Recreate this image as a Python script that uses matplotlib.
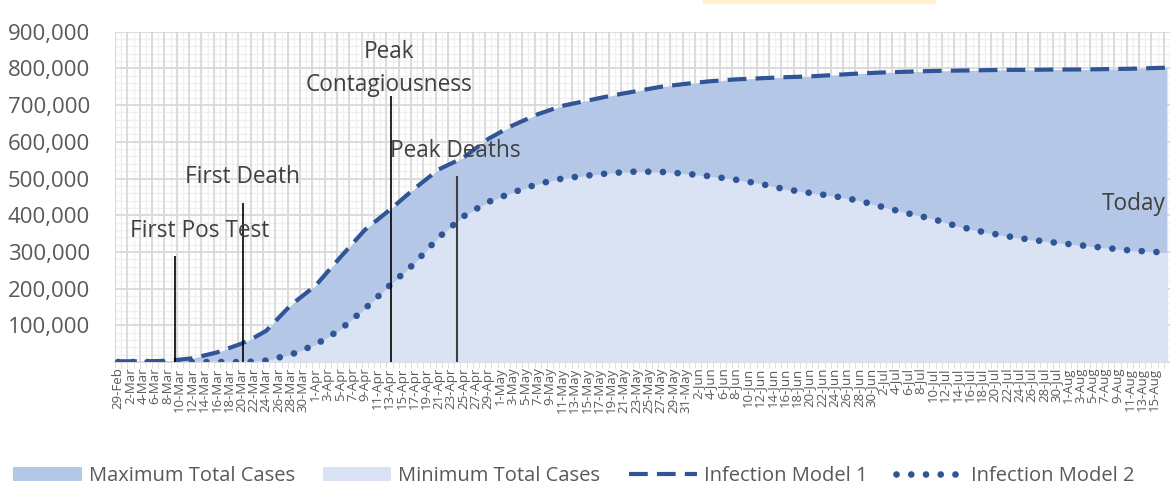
import matplotlib.pyplot as plt
import numpy as np
import pandas as pd
from matplotlib.ticker import MultipleLocator

plt.rcParams['font.family'] = ['Open Sans', 'DejaVu Sans']

# category axis: one entry per day
days = pd.date_range('2020-02-29', '2020-08-17')
day_labels = [f"{d.day}-{d.strftime('%b')}" for d in days]

# values at sample dates
pt_dates = ['29-Feb', '4-Mar', '8-Mar', '12-Mar', '16-Mar', '20-Mar', '22-Mar', '24-Mar',
            '28-Mar', '1-Apr', '5-Apr', '9-Apr', '13-Apr', '17-Apr', '21-Apr', '25-Apr',
            '29-Apr', '3-May', '7-May', '11-May', '15-May', '19-May', '23-May', '27-May',
            '31-May', '4-Jun', '8-Jun', '12-Jun', '16-Jun', '20-Jun', '24-Jun', '28-Jun',
            '2-Jul', '6-Jul', '10-Jul', '14-Jul', '18-Jul', '22-Jul', '26-Jul', '30-Jul',
            '3-Aug', '7-Aug', '11-Aug', '15-Aug', '17-Aug']
model1 = [2000, 2000, 3000, 10000, 26000, 50000, 66000, 85000,
          155000, 208000, 285000, 360000, 414000, 472000, 525000, 557000,
          608000, 645000, 675000, 698000, 712000, 726000, 738000, 750000,
          758000, 765000, 770000, 773000, 776000, 778000, 782000, 786000,
          789000, 791000, 793000, 794000, 795000, 796000, 796000, 797000,
          797000, 798000, 799000, 801000, 802000]
model2 = [0, 0, 0, 0, 0, 0, 1000, 4000,
          20000, 47000, 88000, 145000, 208000, 268000, 340000, 397000,
          436000, 462000, 485000, 500000, 508000, 515000, 519000, 518000,
          513000, 506000, 497000, 486000, 471000, 461000, 452000, 440000,
          422000, 405000, 390000, 370000, 355000, 343000, 333000, 325000,
          318000, 311000, 304000, 300000, 298000]

event_dates = ['9-Mar', '20-Mar', '13-Apr', '24-Apr']
event_tops = [290000, 433000, 726000, 508000]
event_names = ['First Pos Test', 'First Death', 'Peak\nContagiousness', 'Peak Deaths']

pos = {lab: i for i, lab in enumerate(day_labels)}
x = np.array([pos[d] for d in pt_dates])
ev_x = np.array([pos[d] for d in event_dates])

fig = plt.figure(figsize=(11.7, 4.87), dpi=100)
ax = fig.add_axes([115/1170, 1-362/487, 1-115/1170, (362-31.7)/487])

ax.fill_between(x, model1, color='#b4c7e7', lw=0, label='Maximum Total Cases', zorder=2)
ax.fill_between(x, model2, color='#dae3f3', lw=0, label='Minimum Total Cases', zorder=3)
ax.plot(x, model1, color='#2f5597', lw=3, dashes=(4.5, 2.2), label='Infection Model 1', zorder=5)
ax.plot(x, model2, color='#2f5597', lw=4.8, dashes=(0.01, 2.2), dash_capstyle='round',
        label='Infection Model 2', zorder=5)

# event markers
ax.vlines(ev_x[:3] + 0.2, 0, event_tops[:3], colors='black', lw=1.2, zorder=6)
ax.vlines(ev_x[3], 0, event_tops[3], colors='#404040', lw=1.5, zorder=6)
txt = dict(fontsize=16.3, color='#404040', ha='center', va='center', zorder=7)
ax.text(ev_x[0] + 4.2, event_tops[0] + 67000, event_names[0], **txt)
ax.text(ev_x[1] + 0.1, event_tops[1] + 71000, event_names[1], **txt)
ax.text(ev_x[2] - 0.1, event_tops[2] + 75000, event_names[2], linespacing=1.5, **txt)
ax.text(ev_x[3] - 0.3, event_tops[3] + 67000, event_names[3], **txt)
ax.text(159.5, 430000, 'Today', fontsize=16.3, color='#404040', ha='left', va='center', zorder=7)

# grid
bounds = np.arange(-0.5, len(days), 1)
ax.vlines(bounds, 0, 900000, color='#f0f0f0', lw=1, zorder=0)
ax.vlines(bounds[::2], 0, 900000, color='#d9d9d9', lw=1.3, zorder=0.6)
ax.set_yticks(np.arange(100000, 900001, 100000))
ax.yaxis.set_minor_locator(MultipleLocator(20000))
ax.set_axisbelow(True)
ax.grid(axis='y', which='major', color='#d9d9d9', lw=1.3)
ax.grid(axis='y', which='minor', color='#f0f0f0', lw=1)

ax.set_xlim(-0.5, -0.5 + (1170-115)/6.2)
ax.set_ylim(0, 900000)
ax.set_yticklabels([f"{v:,}" for v in range(100000, 900001, 100000)])
ax.tick_params(axis='y', which='both', length=0, labelsize=16, labelcolor='#595959', pad=18)

ax.set_xticks(np.arange(0, len(days) - 2, 2))
ax.set_xticklabels(day_labels[:-2:2], rotation=90)
ax.set_xticks(bounds, minor=True)
ax.tick_params(axis='x', which='major', length=0, labelsize=9.5, labelcolor='#595959', pad=4)
ax.tick_params(axis='x', which='minor', length=4, color='#d9d9d9', direction='out')

for s in ['left', 'right', 'top']:
    ax.spines[s].set_visible(False)
ax.spines['bottom'].set_color('#d9d9d9')
ax.spines['bottom'].set_linewidth(1.3)

fig.legend(loc='center', bbox_to_anchor=(574/1170, 1-476/487), ncol=4, frameon=False,
           fontsize=14.5, handlelength=3.4, handletextpad=0.35, columnspacing=1.4,
           labelcolor='#595959')

fig.add_artist(plt.Rectangle((703/1170, 1-3/487), 232/1170, 3/487,
                             transform=fig.transFigure, color='#fff2cc'))

fig.savefig('out.png', dpi=100)
